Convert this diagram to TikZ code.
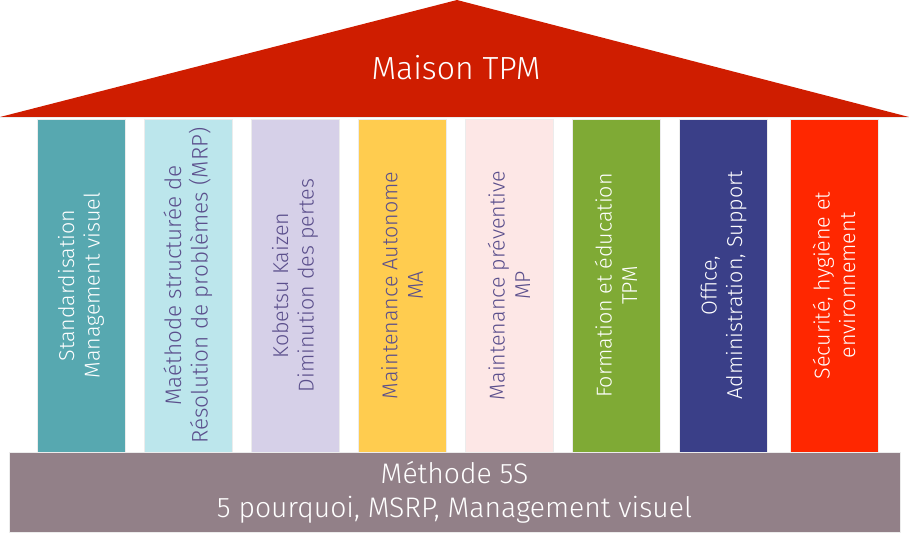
\documentclass[tikz,border=0pt]{standalone}
\usepackage{fontspec}
\setmainfont{Fira Sans Light}
\usepackage{xcolor}
\usepackage{tikz}
\definecolor{roofred}{HTML}{CF1D00}
\definecolor{tealpil}{HTML}{57A8B0}
\definecolor{skypil}{HTML}{BCE6EC}
\definecolor{lavpil}{HTML}{D6D0E8}
\definecolor{amberpil}{HTML}{FFCC4F}
\definecolor{rosepil}{HTML}{FDE7E6}
\definecolor{greenpil}{HTML}{7FAA35}
\definecolor{navypil}{HTML}{3A3F88}
\definecolor{redpil}{HTML}{FF2700}
\definecolor{basegrey}{HTML}{928088}
\definecolor{inkpurple}{HTML}{5B4F8C}

\begin{document}
\begin{tikzpicture}[
    x=1pt, y=-1pt,
    pillar/.style={rotate=90, minimum width=333pt, minimum height=88pt, inner sep=0pt, align=center,
        draw=white!85!gray, line width=0.5pt, font=\fontsize{21.5}{25.5}\selectfont},
    lighttext/.style={text=white},
    darktext/.style={text=inkpurple},
]
    \useasboundingbox[fill=white] (0,0) rectangle (909,550);

    % roof
    \fill[roofred] (0,117) -- (457,0) -- (909,117) -- cycle;
    \draw[white!85!gray, line width=0.6pt] (0,117.5) -- (909,117.5);
    \node[text=white, font=\fontsize{32}{38}\selectfont] (roof) at (456,68) {Maison TPM};

    % pillars
    \node[pillar, fill=tealpil, lighttext] (std) at (81,285.5) {Standardisation\\Management visuel};
    \node[pillar, fill=skypil, darktext, font=\fontsize{22.5}{26.5}\selectfont] (mrp) at (188,285.5) {Maéthode structurée de\\Résolution de problèmes (MRP)};
    \node[pillar, fill=lavpil, darktext] (kaizen) at (295,285.5) {Kobetsu Kaizen\\Diminution des pertes};
    \node[pillar, fill=amberpil, darktext] (ma) at (402,285.5) {Maintenance Autonome\\MA};
    \node[pillar, fill=rosepil, darktext] (mp) at (509,285.5) {Maintenance préventive\\MP};
    \node[pillar, fill=greenpil, lighttext] (formation) at (616,285.5) {Formation et éducation\\TPM};
    \node[pillar, fill=navypil, lighttext] (office) at (723.5,285.5) {Office,\\Administration, Support};
    \node[pillar, fill=redpil, lighttext] (safety) at (834,285.5) {Sécurité, hygiène et\\environnement};

    % base
    \node[fill=basegrey, draw=white!85!gray, line width=0.5pt, minimum width=891pt, minimum height=80pt, inner sep=0pt,
        align=center, text=white, font=\fontsize{28.3}{34}\selectfont] (base) at (454.5,492.5)
        {Méthode 5S\\5 pourquoi, MSRP, Management visuel};
\end{tikzpicture}
\end{document}
